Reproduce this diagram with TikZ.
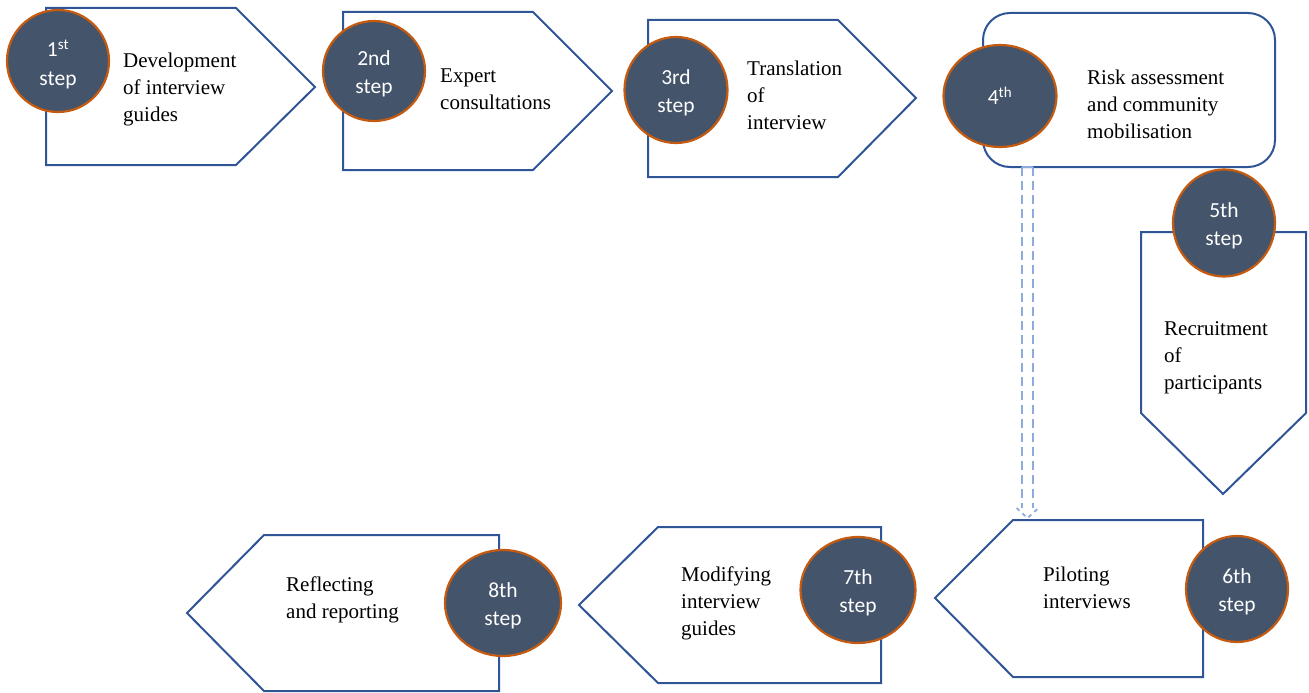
\documentclass[tikz,border=0pt]{standalone}
\usepackage{fontspec}
\setmainfont{Liberation Serif}
\newfontfamily\dotfont{Carlito}
\usetikzlibrary{shapes.geometric,calc}
\definecolor{boxline}{HTML}{2F5597}
\definecolor{dotfill}{HTML}{44546A}
\definecolor{dotline}{HTML}{C55A11}
\definecolor{linkblue}{HTML}{8FAADC}
\begin{document}
\begin{tikzpicture}[x=1pt,y=-1pt,
  stepbox/.style={draw=boxline, line width=2pt, line join=miter, fill=white},
  stepdot/.style={ellipse, draw=dotline, fill=dotfill, line width=2.2pt, inner sep=0pt},
  dottext/.style={inner sep=0pt, text=white, align=center,
    font=\dotfont\fontsize{21.5}{28.5}\selectfont},
  steptext/.style={anchor=west, align=left, inner sep=0pt, font=\fontsize{21}{27}\selectfont},
  link/.style={draw=linkblue, line width=1.8pt, dash pattern=on 9pt off 5pt}]
\useasboundingbox (0,0) rectangle (1309,693);

% outlines of the eight steps
\draw[stepbox] (46,8) -- (236,8) -- (315,87) -- (236,165) -- (46,165) -- cycle;
\draw[stepbox] (343,12) -- (533,12) -- (612,91) -- (533,170) -- (343,170) -- cycle;
\draw[stepbox] (648,20) -- (838,20) -- (916,98) -- (838,177) -- (648,177) -- cycle;
\draw[stepbox, rounded corners=27pt] (983,13) rectangle (1275,167);
\draw[stepbox] (1141,232) -- (1306,232) -- (1306,413) -- (1223,494) -- (1141,413) -- cycle;
\draw[stepbox] (1203,520) -- (1013,520) -- (935,598) -- (1013,677) -- (1203,677) -- cycle;
\draw[stepbox] (881,527) -- (658,527) -- (579,605) -- (658,683) -- (881,683) -- cycle;
\draw[stepbox] (499,535) -- (264,535) -- (187,613) -- (264,691) -- (499,691) -- cycle;

% step labels
\node[steptext] (t1) at (123,89.5) {Development\\of interview\\guides};
\node[steptext] (t2) at (440,89) {Expert\\consultations};
\node[steptext] (t3) at (747,95.5) {Translation\\of\\interview};
\node[steptext] (t4) at (1087,104) {Risk assessment\\and community\\mobilisation};
\node[steptext] (t5) at (1164,357.5) {Recruitment\\of\\participants};
\node[steptext] (t6) at (1043,587.5) {Piloting\\interviews};
\node[steptext] (t7) at (681,603.5) {Modifying\\interview\\guides};
\node[steptext] (t8) at (286,600) {Reflecting\\and reporting};

% numbered discs
\node[stepdot, minimum width=102pt, minimum height=102pt] (c1) at (58,61) {};
\node[stepdot, minimum width=102pt, minimum height=100pt] (c2) at (374,71) {};
\node[stepdot, minimum width=103pt, minimum height=106pt] (c3) at (676,90) {};
\node[stepdot, minimum width=113pt, minimum height=102pt] (c4) at (1000,96) {};
\node[stepdot, minimum width=102pt, minimum height=107pt] (c5) at (1224,223) {};
\node[stepdot, minimum width=102pt, minimum height=106pt] (c6) at (1237,589) {};
\node[stepdot, minimum width=115pt, minimum height=106pt] (c7) at (858,590) {};
\node[stepdot, minimum width=116pt, minimum height=106pt] (c8) at (503,603) {};

\node[dottext] (n1) at ($(c1)+(0,3)$) {1\textsuperscript{st}\\step};
\node[dottext] (n2) at ($(c2)+(0,3)$) {2nd\\step};
\node[dottext] (n3) at ($(c3)+(0,3)$) {3rd\\step};
\node[dottext] (n4) at ($(c4)+(0,0)$) {4\textsuperscript{th}};
\node[dottext] (n5) at ($(c5)+(0,3)$) {5th\\step};
\node[dottext] (n6) at ($(c6)+(0,3)$) {6th\\step};
\node[dottext] (n7) at ($(c7)+(0,3)$) {7th\\step};
\node[dottext] (n8) at ($(c8)+(0,3)$) {8th\\step};

% double dashed link from step 4 down to step 6
\coordinate (p4) at (1027.5,167);
\coordinate (p6) at (1027.5,518);
\draw[link] ($(p4)+(-5.5,0)$) -- ($(p6)+(-5.5,-10)$);
\draw[link] ($(p4)+(5.5,0)$) -- ($(p6)+(5.5,-10)$);
\draw[draw=linkblue, line width=1.8pt] ($(p4)+(-5.5,0)$) -- ($(p4)+(5.5,0)$);
\draw[link, dash pattern=on 4pt off 4pt] ($(p6)+(-11,-10)$) -- (p6) -- ($(p6)+(11,-10)$);
\end{tikzpicture}
\end{document}
